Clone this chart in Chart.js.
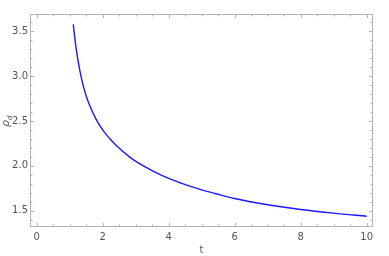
<!DOCTYPE html>
<html>
<head>
<meta charset="utf-8">
<script src="https://cdn.jsdelivr.net/npm/chart.js@4/dist/chart.umd.min.js"></script>
<style>
  html, body { margin: 0; padding: 0; background: #fff; }
  #wrap { width: 389px; height: 256px; }
</style>
</head>
<body>
<div id="wrap"><canvas id="grafico"></canvas></div>
<script>
// valores
const tVals = [1.11, 1.2, 1.3, 1.4, 1.5, 1.6, 1.8, 2.0, 2.2, 2.43, 2.83, 3.03, 3.54, 4.04, 4.55, 5.05, 5.56, 6, 6.47, 7, 8, 9, 10];
const rhoVals = [3.575, 3.30, 3.08, 2.91, 2.78, 2.68, 2.52, 2.40, 2.31, 2.22, 2.095, 2.045, 1.94, 1.855, 1.785, 1.728, 1.678, 1.637, 1.601, 1.567, 1.515, 1.474, 1.44];

const xTicks = [0, 2, 4, 6, 8, 10];
const yTicks = [1.5, 2.0, 2.5, 3.0, 3.5];
const xMinor = [0, 0.5, 1, 1.5, 2, 2.5, 3, 3.5, 4, 4.5, 5, 5.5, 6, 6.5, 7, 7.5, 8, 8.5, 9, 9.5, 10];
const yMinor = [1.4, 1.5, 1.6, 1.7, 1.8, 1.9, 2.0, 2.1, 2.2, 2.3, 2.4, 2.5, 2.6, 2.7, 2.8, 2.9, 3.0, 3.1, 3.2, 3.3, 3.4, 3.5, 3.6];

const colorMarco = "#b4b4b4";
const colorTexto = "#555555";

// marco estilo Mathematica con marcas hacia dentro
const marcoPlugin = {
  id: "marco",
  afterDraw(chart) {
    const ctx = chart.ctx;
    const a = chart.chartArea;
    const sx = chart.scales.x;
    const sy = chart.scales.y;
    ctx.save();
    ctx.strokeStyle = colorMarco;
    ctx.lineWidth = 1;
    ctx.strokeRect(a.left + 0.5, a.top + 0.5, a.right - a.left - 1, a.bottom - a.top - 1);

    ctx.beginPath();
    xMinor.forEach(v => {
      const px = Math.round(sx.getPixelForValue(v)) + 0.5;
      const len = xTicks.includes(v) ? 4 : 2.5;
      ctx.moveTo(px, a.bottom); ctx.lineTo(px, a.bottom - len);
      ctx.moveTo(px, a.top); ctx.lineTo(px, a.top + len);
    });
    yMinor.forEach(v => {
      const py = Math.round(sy.getPixelForValue(v)) + 0.5;
      const len = yTicks.some(t => Math.abs(t - v) < 1e-6) ? 4 : 2.5;
      ctx.moveTo(a.left, py); ctx.lineTo(a.left + len, py);
      ctx.moveTo(a.right, py); ctx.lineTo(a.right - len, py);
    });
    ctx.stroke();

    // titulo eje y: rho con subindice d
    ctx.fillStyle = colorTexto;
    ctx.translate(9, 121);
    ctx.rotate(-Math.PI / 2);
    ctx.textBaseline = "alphabetic";
    ctx.font = "italic 11px 'DejaVu Sans', sans-serif";
    ctx.fillText("ρ", -6, 0);
    ctx.font = "italic 7px 'DejaVu Sans', sans-serif";
    ctx.fillText("d", 1, 3);
    ctx.restore();
  }
};

new Chart(document.getElementById("grafico"), {
  type: "scatter",
  data: {
    datasets: [{
      data: tVals.map((t, i) => ({ x: t, y: rhoVals[i] })),
      showLine: true,
      borderColor: "#1a1aff",
      borderWidth: 1.4,
      pointRadius: 0,
      cubicInterpolationMode: "monotone",
      fill: false
    }]
  },
  options: {
    responsive: true,
    maintainAspectRatio: false,
    animation: false,
    layout: { padding: { top: 14, right: 16, left: 0, bottom: 0 } },
    plugins: { legend: { display: false }, tooltip: { enabled: false } },
    scales: {
      x: {
        type: "linear",
        min: -0.2,
        max: 10.19,
        afterBuildTicks: s => { s.ticks = xTicks.map(v => ({ value: v })); },
        afterFit: s => { s.height = 29; },
        grid: { display: false, drawTicks: false },
        border: { display: false },
        ticks: {
          color: colorTexto,
          font: { size: 10, family: "'DejaVu Sans', sans-serif" },
          padding: 4,
          maxRotation: 0,
          callback: v => String(v)
        },
        title: {
          display: true,
          text: "t",
          color: colorTexto,
          font: { size: 10, family: "'DejaVu Sans', sans-serif" },
          padding: { top: 0, bottom: 0 }
        }
      },
      y: {
        type: "linear",
        min: 1.32,
        max: 3.69,
        afterBuildTicks: s => { s.ticks = yTicks.map(v => ({ value: v })); },
        afterFit: s => { s.width = 30; },
        grid: { display: false, drawTicks: false },
        border: { display: false },
        ticks: {
          color: colorTexto,
          font: { size: 10, family: "'DejaVu Sans', sans-serif" },
          padding: 2,
          callback: v => v.toFixed(1)
        }
      }
    }
  },
  plugins: [marcoPlugin]
});
</script>
</body>
</html>
